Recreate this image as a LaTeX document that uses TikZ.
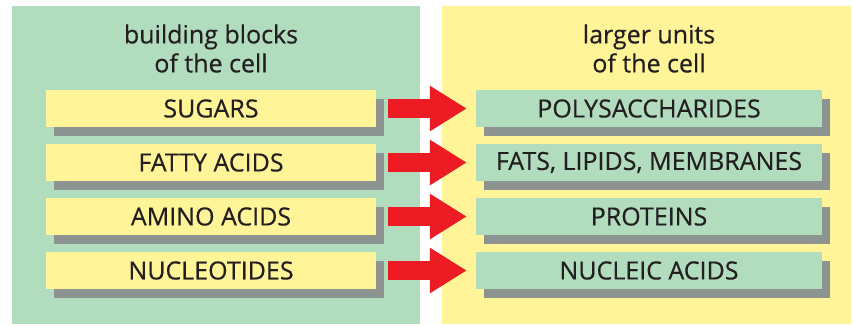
\documentclass[tikz,border=0pt]{standalone}
\usepackage{fontspec}
\setmainfont{Open Sans}[FakeBold=0.4]
\usetikzlibrary{arrows.meta,shadows}
\definecolor{pgreen}{RGB}{178,220,190}
\definecolor{pyellow}{RGB}{255,245,152}
\definecolor{pshadow}{RGB}{140,147,144}
\definecolor{pred}{RGB}{237,28,36}
\definecolor{ptext}{RGB}{35,31,32}
\tikzset{
  itembox/.style={minimum width=330pt, minimum height=37pt, inner sep=0pt, text=ptext,
    font=\fontsize{25}{29}\selectfont,
    drop shadow={shadow xshift=8pt, shadow yshift=-9pt, opacity=1, fill=pshadow}},
  leftbox/.style={itembox, fill=pyellow},
  rightbox/.style={itembox, fill=pgreen, minimum width=346pt},
  heading/.style={align=center, text=ptext, font=\fontsize{25}{29}\selectfont, inner sep=0pt},
  bigarrow/.style={draw=pred, line width=19pt, -{Triangle[width=43pt,length=37pt]}}
}
\begin{document}
\begin{tikzpicture}[x=1pt,y=-1pt]
\useasboundingbox (0,0) rectangle (853,325);
\fill[white] (0,0) rectangle (853,325);
\fill[pgreen] (12,6) rectangle (420,324);
\fill[pyellow] (442,6) rectangle (851,324);
\node[heading] (lh) at (211,48.5) {building blocks\\of the cell};
\node[heading] (rh) at (649,48.5) {larger units\\of the cell};
\node[leftbox] (l1) at (211,108.5) {SUGARS};
\node[leftbox] (l2) at (211,162.5) {FATTY ACIDS};
\node[leftbox] (l3) at (211,216.5) {AMINO ACIDS};
\node[leftbox] (l4) at (211,270.5) {NUCLEOTIDES};
\node[rightbox] (r1) at (649,108.5) {POLYSACCHARIDES};
\node[rightbox] (r2) at (649,162.5) {FATS, LIPIDS, MEMBRANES};
\node[rightbox] (r3) at (649,216.5) {PROTEINS};
\node[rightbox] (r4) at (649,270.5) {NUCLEIC ACIDS};
\foreach \i in {1,2,3,4}{
  \draw[bigarrow] ([xshift=12pt]l\i.east) -- ([xshift=-9pt]r\i.west);
}
\end{tikzpicture}
\end{document}
